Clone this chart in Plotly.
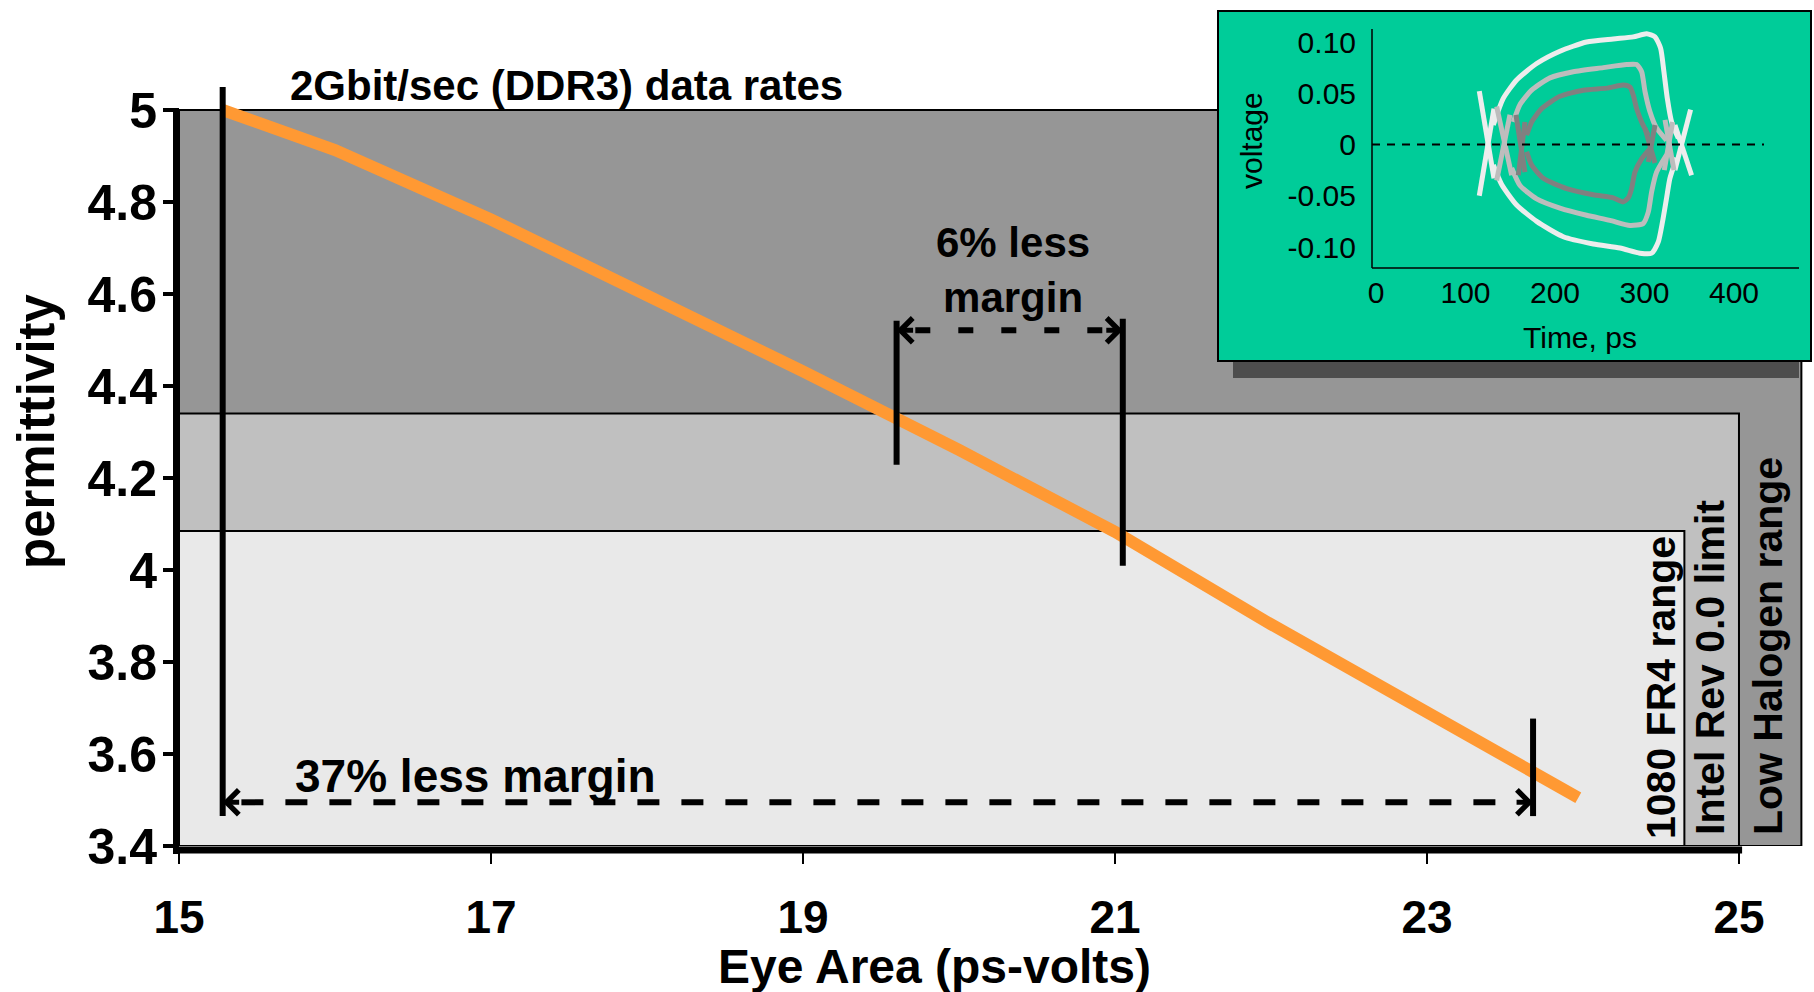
import plotly.graph_objects as go

W, H = 1814, 992
FONT = "Liberation Sans, Arial, Helvetica, sans-serif"

# ---------------- main chart data ----------------
eye_area = [15.28, 16.0, 17.0, 18.0, 19.0, 20.0, 21.0, 22.0, 23.0, 23.97]
permittivity = [5.00, 4.913, 4.762, 4.598, 4.432, 4.261, 4.083, 3.882, 3.687, 3.505]

x_ticks = [15, 17, 19, 21, 23, 25]
y_ticks = [3.4, 3.6, 3.8, 4.0, 4.2, 4.4, 4.6, 4.8, 5.0]
y_ticktext = ["3.4", "3.6", "3.8", "4", "4.2", "4.4", "4.6", "4.8", "5"]

# material permittivity bands
band_labels = ["Low Halogen range", "Intel Rev 0.0 limit", "1080 FR4 range"]
band_top = [5.0, 4.34, 4.085]
band_right = [25.4, 25.0, 24.65]
band_colors = ["#969696", "#c0c0c0", "#e9e9e9"]

# vertical margin markers
marker_x = [15.28, 19.60, 21.05, 23.68]
marker_lo = [3.465, 4.229, 4.009, 3.465]
marker_hi = [5.05, 4.542, 4.546, 3.677]

# dimension arrows
arrow_from = [19.60, 15.28]
arrow_to = [21.05, 23.68]
arrow_y = [4.521, 3.495]
arrow_dash = ["15px,28px", "22px,22px"]
arrow_text = ["6% less<br>margin", "37% less margin"]

# ---------------- inset eye diagram data ----------------
inset_xticks = [0, 100, 200, 300, 400]
inset_yticks = [0.10, 0.05, 0.0, -0.05, -0.10]
inset_yticktext = ["0.10", "0.05", "0", "-0.05", "-0.10"]

outer_top_t = [131.1, 142.2, 157.1, 179.5, 205.5, 235.3, 265.1, 287.5, 302.4, 311.7, 318.0, 321.7, 325.5, 330.3, 337.8]
outer_top_v = [0.019, 0.045, 0.063, 0.079, 0.091, 0.100, 0.103, 0.105, 0.108, 0.105, 0.094, 0.071, 0.045, 0.022, 0.006]
outer_bot_t = [131.1, 140.4, 157.1, 179.5, 209.3, 242.8, 272.6, 294.9, 308.0, 315.4, 320.2, 324.7, 328.4, 335.9]
outer_bot_v = [-0.020, -0.039, -0.059, -0.075, -0.090, -0.097, -0.101, -0.106, -0.106, -0.095, -0.075, -0.052, -0.033, -0.013]
outer_cross_t = [115.4, 131.8, None, 115.4, 131.8, None, 334.0, 352.6, None, 334.0, 351.5]
outer_cross_v = [0.052, -0.033, None, -0.050, 0.035, None, 0.019, -0.030, None, -0.025, 0.034]

mid_top_t = [153.4, 160.9, 173.9, 194.4, 220.4, 254.0, 280.0, 291.2, 296.8, 300.5, 306.1, 313.5, 324.7]
mid_top_v = [0.022, 0.039, 0.053, 0.065, 0.071, 0.075, 0.078, 0.078, 0.071, 0.052, 0.032, 0.016, 0.004]
mid_bot_t = [151.6, 160.9, 179.5, 205.5, 235.3, 261.4, 283.8, 298.6, 304.2, 308.0, 313.5, 324.7]
mid_bot_v = [-0.023, -0.040, -0.053, -0.062, -0.069, -0.074, -0.079, -0.077, -0.066, -0.046, -0.027, -0.010]
mid_cross_t = [134.8, 151.6, None, 134.8, 149.7, None, 322.9, 332.9, None, 322.1, 331.4]
mid_cross_v = [0.037, -0.030, None, -0.035, 0.029, None, 0.024, -0.025, None, -0.025, 0.022]

inner_top_t = [168.3, 173.9, 185.1, 205.5, 231.6, 257.7, 276.3, 283.8, 287.5, 291.2, 296.8, 304.2]
inner_top_v = [0.009, 0.022, 0.035, 0.047, 0.053, 0.055, 0.058, 0.056, 0.048, 0.035, 0.022, 0.009]
inner_bot_t = [168.3, 173.9, 186.9, 213.0, 242.8, 265.1, 276.3, 281.9, 285.6, 289.3, 296.8, 306.1]
inner_bot_v = [-0.007, -0.020, -0.033, -0.043, -0.049, -0.052, -0.056, -0.052, -0.043, -0.027, -0.014, -0.004]
inner_cross_t = [156.4, 166.4, None, 159.0, 166.4, None, 300.5, 311.7, None, 304.2, 311.7]
inner_cross_v = [0.029, -0.027, None, -0.030, 0.022, None, 0.016, -0.018, None, -0.017, 0.019]

eye_colors = ["#ededed", "#bdbdbd", "#808080"]

# ---------------- geometry helpers (pixel layout) ----------------
def px(xp, yp):
    return xp / W, 1 - yp / H

# inset scale: 0 ps at x=1376px, 0.895 px/ps ; 0 V at y=144.5px, 1025 px/V
def t_at(xp):
    return (xp - 1376) / 0.895

def v_at(yp):
    return (144.5 - yp) / 1025


fig = go.Figure()

# orange permittivity vs eye-area curve
fig.add_trace(go.Scatter(x=eye_area, y=permittivity, mode="lines",
                         line=dict(color="#ff9933", width=12), hoverinfo="skip"))

# vertical markers
mx, my = [], []
for x, lo, hi in zip(marker_x, marker_lo, marker_hi):
    mx += [x, x, None]
    my += [lo, hi, None]
fig.add_trace(go.Scatter(x=mx, y=my, mode="lines",
                         line=dict(color="black", width=6), hoverinfo="skip"))

# dashed dimension lines
for x0, x1, y, dash in zip(arrow_from, arrow_to, arrow_y, arrow_dash):
    fig.add_trace(go.Scatter(x=[x0 + 0.12, x1 - 0.12], y=[y, y], mode="lines",
                             line=dict(color="black", width=6, dash=dash), hoverinfo="skip"))

# inset eye curves
levels = [
    (outer_top_t, outer_top_v, outer_bot_t, outer_bot_v, outer_cross_t, outer_cross_v),
    (mid_top_t, mid_top_v, mid_bot_t, mid_bot_v, mid_cross_t, mid_cross_v),
    (inner_top_t, inner_top_v, inner_bot_t, inner_bot_v, inner_cross_t, inner_cross_v),
]
for (tt, tv, bt, bv, ct, cv), col in zip(levels, eye_colors):
    xs = list(tt) + [None] + list(bt) + [None] + list(ct)
    ys = list(tv) + [None] + list(bv) + [None] + list(cv)
    fig.add_trace(go.Scatter(x=xs, y=ys, mode="lines", xaxis="x2", yaxis="y2",
                             line=dict(color=col, width=5, shape="spline", smoothing=0.6),
                             connectgaps=False, hoverinfo="skip"))

# zero reference line of the inset
fig.add_trace(go.Scatter(x=[t_at(1372), t_at(1764)], y=[0, 0], mode="lines", xaxis="x2", yaxis="y2",
                         line=dict(color="black", width=2, dash="8px,7px"), hoverinfo="skip"))

shapes = []
for top, right, col in zip(band_top, band_right, band_colors):
    shapes.append(dict(type="rect", xref="x", yref="y", x0=15, x1=right, y0=3.4, y1=top,
                       fillcolor=col, line=dict(color="black", width=2), layer="below"))

# main axis lines
shapes.append(dict(type="line", xref="paper", yref="paper",
                   x0=176 / W, x1=176 / W, y0=1 - 108 / H, y1=1 - 854 / H,
                   line=dict(color="black", width=6), layer="above"))
shapes.append(dict(type="line", xref="x", yref="paper", x0=15, x1=25.02,
                   y0=1 - 850 / H, y1=1 - 850 / H,
                   line=dict(color="black", width=7), layer="above"))

# inset frame: shadow, green panel, axis lines
shapes.append(dict(type="rect", xref="x2", yref="y2", x0=t_at(1233), x1=t_at(1799),
                   y0=v_at(378), y1=v_at(358), fillcolor="#4d4d4d", line=dict(width=0), layer="below"))
shapes.append(dict(type="rect", xref="x2", yref="y2", x0=t_at(1218), x1=t_at(1811),
                   y0=v_at(361), y1=v_at(11), fillcolor="#00cc99",
                   line=dict(color="black", width=2), layer="below"))
shapes.append(dict(type="line", xref="x2", yref="y2", x0=t_at(1372), x1=t_at(1799),
                   y0=v_at(268), y1=v_at(268), line=dict(color="black", width=1.5), layer="below"))
shapes.append(dict(type="line", xref="x2", yref="y2", x0=t_at(1372), x1=t_at(1372),
                   y0=v_at(268), y1=v_at(29), line=dict(color="black", width=1.5), layer="below"))

ann = []

def text(xp, yp, s, size, bold=True, angle=0, family=FONT):
    x, y = px(xp, yp)
    ann.append(dict(xref="paper", yref="paper", x=x, y=y, text=s, showarrow=False,
                    xanchor="center", yanchor="middle", textangle=angle,
                    font=dict(family=family, size=size, color="black",
                              weight="bold" if bold else "normal")))

text(566, 85, "2Gbit/sec (DDR3) data rates", 42)
text(1013, 270, arrow_text[0], 42)
text(475, 776, arrow_text[1], 46)
text(36, 431, "permittivity", 51, angle=-90)
text(935, 966, "Eye Area (ps-volts)", 48)
text(1661, 688, band_labels[2], 41, angle=-90)
text(1710, 668, band_labels[1], 41, angle=-90)
text(1768, 646, band_labels[0], 41, angle=-90)
text(1252, 141, "voltage", 30, bold=False, angle=-90)
text(1580, 337, "Time, ps", 30, bold=False)

# arrow heads of the dimension lines
for x0, x1, y in zip(arrow_from, arrow_to, arrow_y):
    for xh, dx in ((x0, 18), (x1, -18)):
        ann.append(dict(xref="x", yref="y", x=xh, y=y, ax=dx, ay=0, text="",
                        showarrow=True, arrowhead=4, arrowsize=0.95, arrowwidth=5,
                        arrowcolor="black", standoff=0))

fig.update_layout(
    width=W, height=H, margin=dict(l=0, r=0, t=0, b=0, autoexpand=False),
    paper_bgcolor="white", plot_bgcolor="rgba(0,0,0,0)", showlegend=False, hovermode=False,
    shapes=shapes, annotations=ann,
    xaxis=dict(domain=[179 / W, 1804.5 / W], range=[15, 25.42], tickvals=x_ticks,
               ticks="outside", ticklen=17, tickwidth=2, tickcolor="black",
               showgrid=False, zeroline=False, showline=False, ticklabelstandoff=14,
               automargin=False,
               tickfont=dict(family=FONT, size=46, color="black", weight="bold")),
    yaxis=dict(domain=[1 - 846 / H, 1 - 87 / H], range=[3.4, 5.05], tickvals=y_ticks,
               ticktext=y_ticktext, ticks="outside", ticklen=15, tickwidth=4, tickcolor="black",
               showgrid=False, zeroline=False, showline=False, ticklabelstandoff=-4,
               automargin=False,
               tickfont=dict(family=FONT, size=50, color="black", weight="bold")),
    xaxis2=dict(domain=[1215 / W, 1.0], range=[t_at(1215), t_at(1814)], anchor="free",
                position=1 - 268 / H, tickvals=inset_xticks, ticks="", showgrid=False,
                zeroline=False, showline=False, ticklabelstandoff=4, automargin=False,
                tickfont=dict(family=FONT, size=30, color="black")),
    yaxis2=dict(domain=[1 - 380 / H, 1 - 9 / H], range=[v_at(380), v_at(9)], anchor="free",
                position=1372 / W, tickvals=inset_yticks, ticktext=inset_yticktext, ticks="",
                showgrid=False, zeroline=False, showline=False, ticklabelstandoff=16,
                automargin=False,
                tickfont=dict(family=FONT, size=30, color="black")),
)

fig.write_html("out.html")
